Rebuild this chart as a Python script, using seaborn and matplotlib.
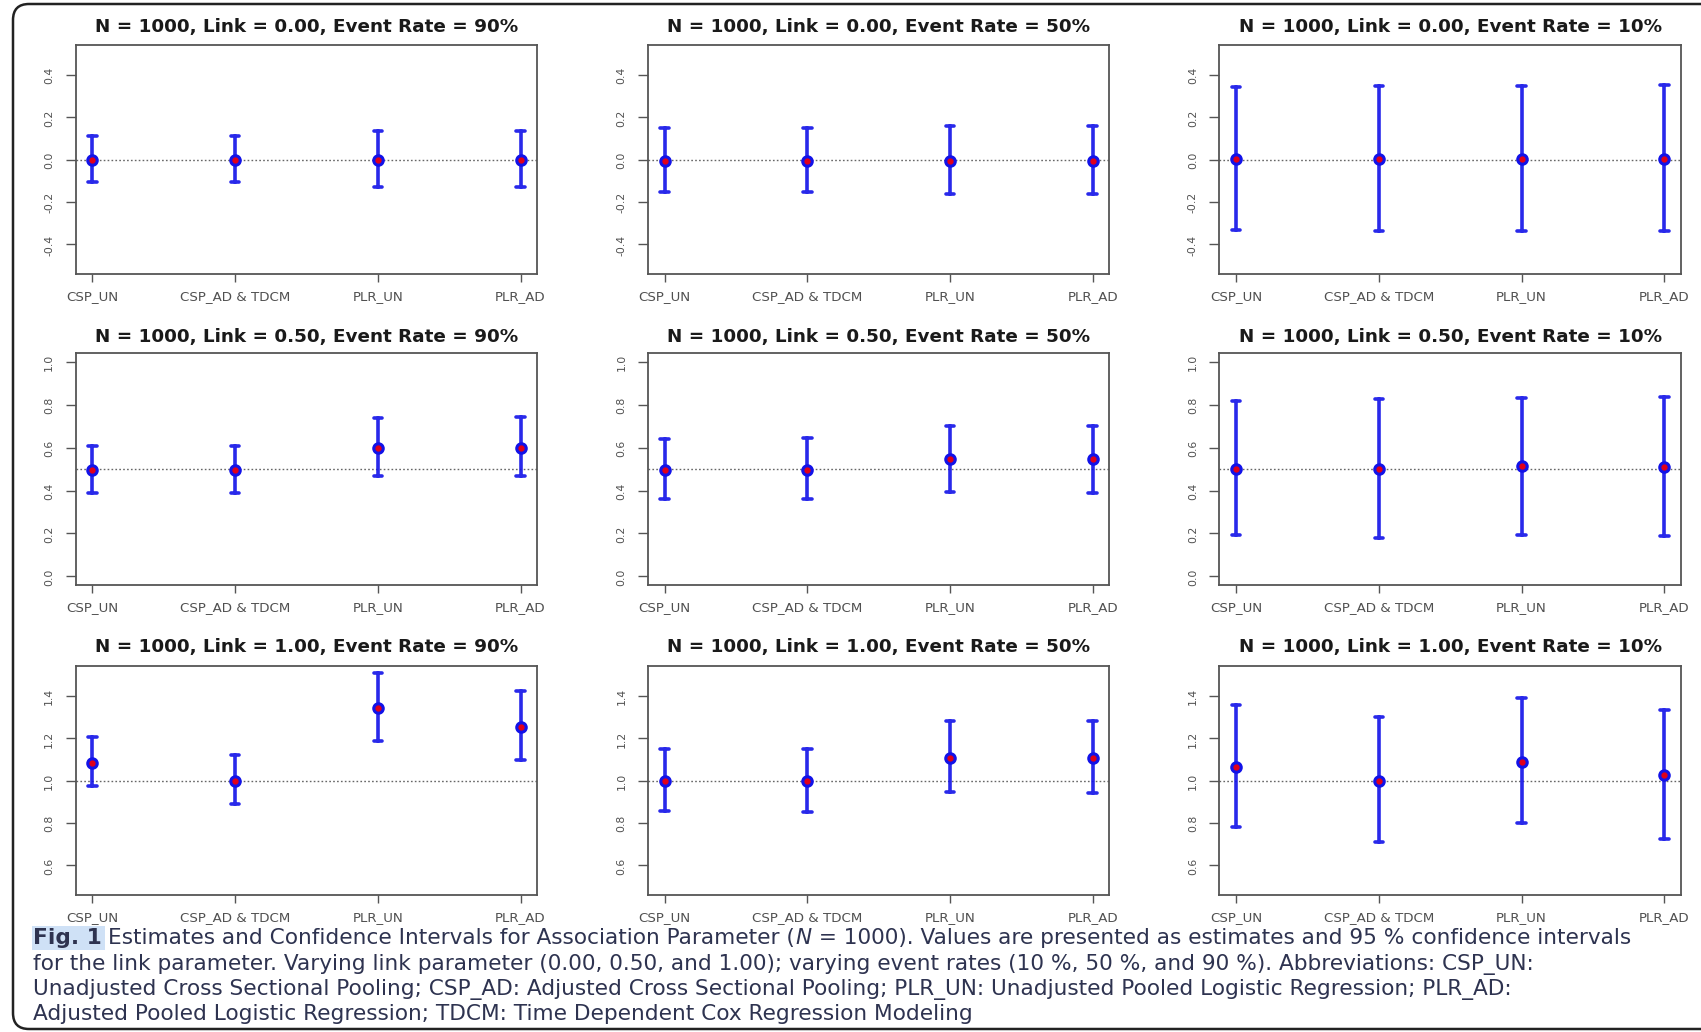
import matplotlib
matplotlib.use("Agg")
import matplotlib.pyplot as plt
import matplotlib.transforms as mtransforms
from matplotlib.patches import PathPatch, Rectangle
from matplotlib.path import Path
from matplotlib.ticker import FixedLocator, FormatStrFormatter
import numpy as np
import pandas as pd
import seaborn as sns

# ---------------- data ----------------
methods = ["CSP_UN", "CSP_AD & TDCM", "PLR_UN", "PLR_AD"]
sample_size = 1000
links = [0.00, 0.50, 1.00]
event_rates = [90, 50, 10]

# rows = event rate (90, 50, 10 %), columns = methods
est_link000 = [[-0.002, -0.002, -0.002, -0.002],
               [-0.006, -0.006, -0.006, -0.006],
               [0.002, 0.002, 0.002, 0.002]]
lo_link000 = [[-0.105, -0.108, -0.128, -0.128],
              [-0.152, -0.152, -0.161, -0.161],
              [-0.331, -0.335, -0.335, -0.339]]
hi_link000 = [[0.109, 0.112, 0.134, 0.137],
              [0.150, 0.150, 0.158, 0.158],
              [0.342, 0.348, 0.348, 0.351]]

est_link050 = [[0.497, 0.497, 0.598, 0.598],
               [0.497, 0.497, 0.546, 0.546],
               [0.502, 0.502, 0.512, 0.509]]
lo_link050 = [[0.388, 0.388, 0.466, 0.466],
              [0.359, 0.359, 0.393, 0.390],
              [0.192, 0.179, 0.192, 0.186]]
hi_link050 = [[0.609, 0.609, 0.737, 0.742],
              [0.639, 0.645, 0.702, 0.702],
              [0.819, 0.824, 0.832, 0.836]]

est_link100 = [[1.085, 1.000, 1.340, 1.254],
               [1.000, 1.000, 1.107, 1.107],
               [1.064, 1.000, 1.086, 1.025]]
lo_link100 = [[0.972, 0.890, 1.188, 1.096],
              [0.857, 0.853, 0.945, 0.940],
              [0.780, 0.711, 0.798, 0.724]]
hi_link100 = [[1.204, 1.119, 1.505, 1.422],
              [1.151, 1.151, 1.282, 1.282],
              [1.355, 1.298, 1.390, 1.333]]

ylims = [(-0.54, 0.54), (-0.04, 1.04), (0.46, 1.54)]
yticks = [[-0.4, -0.2, 0.0, 0.2, 0.4],
          [0.0, 0.2, 0.4, 0.6, 0.8, 1.0],
          [0.6, 0.8, 1.0, 1.2, 1.4]]

caption_bold = "Fig. 1"
caption_l1a = "Estimates and Confidence Intervals for Association Parameter ("
caption_l1b = "N"
caption_l1c = " = 1000). Values are presented as estimates and 95 % confidence intervals"
caption_l2 = ("for the link parameter. Varying link parameter (0.00, 0.50, and 1.00); "
              "varying event rates (10 %, 50 %, and 90 %). Abbreviations: CSP_UN:")
caption_l3 = ("Unadjusted Cross Sectional Pooling; CSP_AD: Adjusted Cross Sectional Pooling; "
              "PLR_UN: Unadjusted Pooled Logistic Regression; PLR_AD:")
caption_l4 = "Adjusted Pooled Logistic Regression; TDCM: Time Dependent Cox Regression Modeling"

all_est = [est_link000, est_link050, est_link100]
all_lo = [lo_link000, lo_link050, lo_link100]
all_hi = [hi_link000, hi_link050, hi_link100]

# ---------------- style ----------------
sns.set_theme(style="ticks")
plt.rcParams["font.family"] = ["DejaVu Sans"]

W, H = 1701, 1033
fig = plt.figure(figsize=(W / 100, 10.329), dpi=100)
fig.patch.set_facecolor("white")

col_px = [(75.8, 537.2), (647.9, 1109.3), (1219.4, 1681.0)]
row_px = [(46, 275), (354, 586), (667, 896)]
title_y = [27, 337, 647]

bar_color = "#1212e8"
axis_gray = "#555555"


def span(v):
    return (v.min(), v.max())


for i, link in enumerate(links):
    for j, er in enumerate(event_rates):
        l, r = col_px[j]
        t, b = row_px[i]
        ax = fig.add_axes([l / W, 1 - b / H, (r - l) / W, (b - t) / H])
        rows = []
        for k, m in enumerate(methods):
            for val in (all_lo[i][j][k], all_est[i][j][k], all_hi[i][j][k]):
                rows.append({"method": m, "value": val})
        df = pd.DataFrame(rows)

        ax.axhline(link, color="#666666", ls=(0, (1.2, 1.6)), lw=1.0, zorder=0.5)
        sns.pointplot(data=df, x="method", y="value", order=methods,
                      estimator="median", errorbar=span, color=bar_color,
                      capsize=0.06, err_kws={"linewidth": 2.6, "alpha": 0.9},
                      marker="o", markersize=7.0, linestyle="none", ax=ax)
        sns.pointplot(data=df, x="method", y="value", order=methods,
                      estimator="median", errorbar=None, color="#e0001a",
                      marker="o", markersize=2.5, linestyle="none", ax=ax)

        ax.set_xlim(-0.117, 3.117)
        ax.set_ylim(*ylims[i])
        ax.yaxis.set_major_locator(FixedLocator(yticks[i]))
        ax.yaxis.set_major_formatter(FormatStrFormatter("%.1f"))
        ax.set_xlabel("")
        ax.set_ylabel("")
        for s in ax.spines.values():
            s.set_visible(True)
            s.set_color(axis_gray)
            s.set_linewidth(1.3)
        ax.tick_params(axis="both", direction="out", width=1.0,
                       color=axis_gray, labelcolor="#505050")
        ax.tick_params(axis="x", labelsize=9.6, pad=5, length=6)
        ax.tick_params(axis="y", labelsize=7.8, pad=8, length=7.5,
                       labelrotation=90)
        for lab in ax.get_yticklabels():
            lab.set_verticalalignment("center")

        fig.text(((l + r) / 2) / W, 1 - title_y[i] / H,
                 f"N = {sample_size}, Link = {link:.2f}, Event Rate = {er}%",
                 ha="center", va="center", fontsize=13.2, fontweight="bold",
                 color="#1a1a1a")

# ---------------- caption ----------------
fig.canvas.draw()
renderer = fig.canvas.get_renderer()
cap_color = "#2e3350"
cap_family = ["DejaVu Sans"]
cap_fs = 15.6
x0 = 33


def render_line(pieces, ybase):
    x = x0
    arts = []
    for s, kw, gap in pieces:
        x += gap
        tt = fig.text(x / W, 1 - ybase / H, s, ha="left", va="baseline",
                      color=cap_color, fontsize=cap_fs, family=cap_family, **kw)
        x += tt.get_window_extent(renderer).width
        arts.append(tt)
    return x, arts


line1 = [(caption_bold, {"fontweight": "bold", "zorder": 3}, 0),
         (caption_l1a, {}, 6),
         (caption_l1b, {"fontstyle": "italic"}, 1),
         (caption_l1c, {}, 0)]
_, arts1 = render_line(line1, 944)
fig_end = arts1[0].get_window_extent(renderer).x1
fig.patches.append(Rectangle((x0 - 1, H - 951), fig_end - x0 + 4, 24,
                             transform=mtransforms.IdentityTransform(),
                             facecolor="#cfe1f6", edgecolor="none", zorder=1,
                             figure=fig))
render_line([(caption_l2, {}, 0)], 970)
render_line([(caption_l3, {}, 0)], 995)
render_line([(caption_l4, {}, 0)], 1020)

# outer rounded frame (open on the right, as in the cropped original)
fl, ft, fb, rad = 13.0, 5.0, 1030.0, 16.0
yt, yb = H - ft, H - fb
verts = [(W + 40, yt), (fl + rad, yt), (fl, yt), (fl, yt - rad),
         (fl, yb + rad), (fl, yb), (fl + rad, yb), (W + 40, yb)]
codes = [Path.MOVETO, Path.LINETO, Path.CURVE3, Path.CURVE3,
         Path.LINETO, Path.CURVE3, Path.CURVE3, Path.LINETO]
frame = PathPatch(Path(verts, codes), transform=mtransforms.IdentityTransform(),
                  fill=False, edgecolor="#222222", linewidth=1.8,
                  figure=fig, zorder=0)
fig.patches.append(frame)

fig.savefig("out.png", dpi=100, facecolor="white")
